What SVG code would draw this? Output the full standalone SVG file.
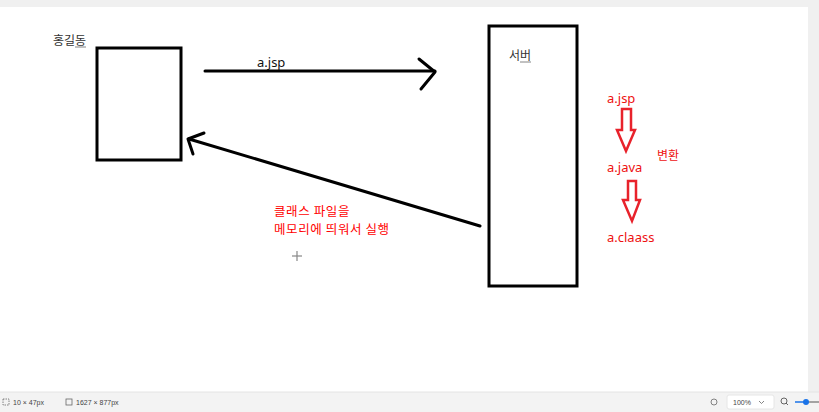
<svg xmlns="http://www.w3.org/2000/svg" width="819" height="412" viewBox="0 0 819 412">
<style>
.box{fill:none;stroke:#000;stroke-width:3}
.ln{fill:none;stroke:#000;stroke-width:3;stroke-linecap:round;stroke-linejoin:round}
.lbl{font-family:"Noto Sans CJK KR","Noto Sans",sans-serif;font-size:12px;fill:#333}
.red{font-family:"Noto Sans","Noto Sans CJK KR",sans-serif;font-size:13px;fill:#ee1111}
.kr{font-family:"Noto Sans CJK KR",sans-serif;font-size:12.5px;fill:#ff0000;letter-spacing:0.6px}
.rarr{fill:none;stroke:#e8222b;stroke-width:2.5;stroke-linejoin:miter}
.st{font-family:"Liberation Sans",sans-serif;font-size:7px;fill:#444}
</style>
<rect width="819" height="412" fill="#f0f0f0"/>
<rect x="0" y="7" width="808" height="385" fill="#fff"/>
<rect x="0" y="392" width="819" height="20" fill="#f3f3f3"/>
<line x1="0" y1="392" x2="819" y2="392" stroke="#e4e4e4"/>

<g id="client">
<rect class="box" x="97" y="48" width="84" height="112"/>
<text class="lbl" x="53" y="45">홍길동</text>
<line x1="75" y1="47" x2="86" y2="47" stroke="#666" stroke-width="0.8"/>
</g>

<g id="server">
<rect class="box" x="489" y="26" width="88" height="260"/>
<text class="lbl" x="509" y="60">서버</text>
<line x1="520" y1="62" x2="531" y2="62" stroke="#666" stroke-width="0.8"/>
</g>

<g id="connectors">
<line class="ln" x1="205" y1="71" x2="435" y2="71"/>
<polyline class="ln" points="419,59 435,72 421,89"/>
<text class="lbl" x="257" y="67" style="font-family:'Noto Sans',sans-serif;font-size:13px;fill:#111">a.jsp</text>
<line class="ln" x1="480" y1="226" x2="189" y2="139"/>
<polyline class="ln" points="204,133 188,139 193,154"/>
<text class="kr" x="274" y="216">클래스 파일을</text>
<text class="kr" x="274" y="234">메모리에 띄워서 실행</text>
</g>

<g id="cursor" stroke="#888" stroke-width="1.2">
<line x1="292" y1="256" x2="302" y2="256"/>
<line x1="297" y1="251" x2="297" y2="261"/>
</g>

<g id="conversion">
<text class="red" x="607" y="103">a.jsp</text>
<polygon class="rarr" points="622,109 631,109 631,130 635,130 626,151 617,130 622,130"/>
<text class="red" x="607" y="172">a.java</text>
<text class="red" x="657" y="160" style="font-family:'Noto Sans CJK KR',sans-serif;font-size:12px">변환</text>
<polygon class="rarr" points="628,181 636,181 636,200 640,200 632,221 623,200 628,200"/>
<text class="red" x="607" y="242">a.claass</text>
</g>

<g id="statusbar">
<rect x="3" y="399" width="6" height="6" fill="none" stroke="#666" stroke-width="0.8" stroke-dasharray="1.5,1"/>
<text class="st" x="13" y="405">10 × 47px</text>
<rect x="66" y="399" width="6" height="6" fill="none" stroke="#666" stroke-width="0.8"/>
<text class="st" x="76" y="405">1627 × 877px</text>
<circle cx="714" cy="402" r="3" fill="none" stroke="#666" stroke-width="0.8"/>
<rect x="727" y="395" width="47" height="14" rx="2" fill="#fff" stroke="#e6e6e6"/>
<text class="st" x="733" y="405">100%</text>
<polyline points="759,401 761.5,403.5 764,401" fill="none" stroke="#666" stroke-width="0.8"/>
<circle cx="784" cy="401" r="3" fill="none" stroke="#555" stroke-width="0.9"/>
<line x1="786" y1="403" x2="788" y2="405" stroke="#555" stroke-width="0.9"/>
<line x1="795" y1="402" x2="805" y2="402" stroke="#1a73e8" stroke-width="1.5"/>
<line x1="805" y1="402" x2="819" y2="402" stroke="#888" stroke-width="1.5"/>
<circle cx="806" cy="402" r="3" fill="#1a73e8"/>
</g>
</svg>
